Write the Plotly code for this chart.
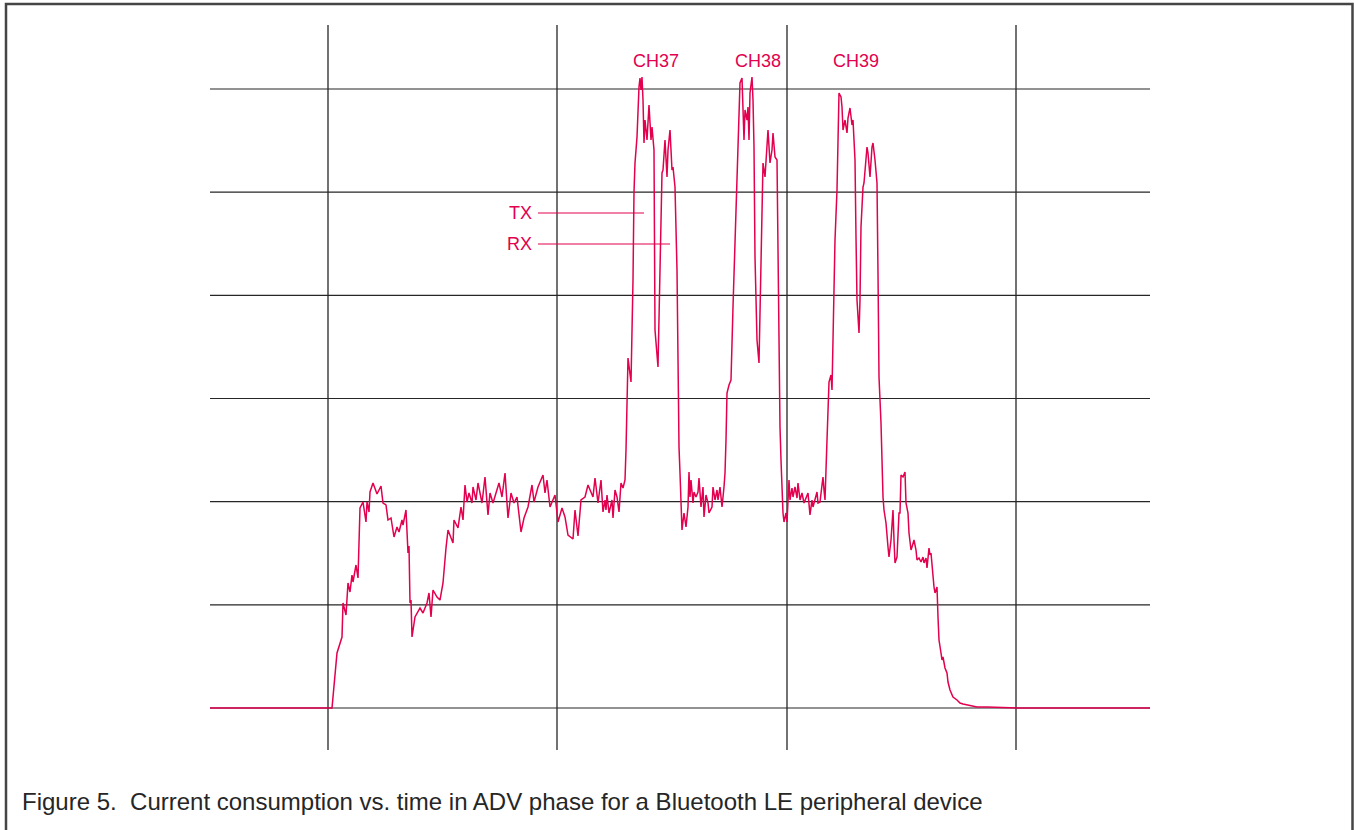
import plotly.graph_objects as go

# Time (arbitrary sample units) and current (arbitrary units, 1 grid division ~ 103.2)
time = [0, 122, 127, 132, 133, 136, 138, 140, 142, 143, 146, 148, 150, 153, 156, 157, 159, 160,
        163, 167, 171, 173, 176, 178, 181, 184, 187, 189, 192, 193, 196, 198, 199, 200, 201, 202,
        205, 207, 210, 213, 217, 219, 221, 223, 227, 230, 233, 236, 238, 243, 244, 248, 251, 253,
        255, 257, 259, 262, 263, 266, 268, 272, 275, 278, 280, 283, 286, 289, 292, 295, 298, 301,
        304, 307, 311, 314, 318, 322, 324, 328, 333, 335, 337, 340, 345, 348, 352, 355, 358, 363,
        365, 368, 371, 375, 378, 383, 385, 388, 391, 392, 393, 395, 396, 397, 399, 402, 403, 405,
        407, 409, 411, 413, 415, 416, 417, 418, 421, 422, 423, 424, 425, 427, 428, 429, 430, 431,
        432, 433, 434, 435, 437, 439, 441, 442, 444, 445, 448, 449, 450, 451, 452, 453, 455, 457,
        458, 460, 462, 463, 465, 467, 468, 469, 470, 471, 472, 474, 476, 478, 479, 480, 481, 483,
        484, 486, 488, 489, 491, 493, 494, 496, 498, 499, 502, 503, 505, 507, 508, 510, 512, 514,
        515, 516, 517, 519, 521, 523, 525, 527, 528, 529, 530, 532, 533, 534, 535, 537, 538, 539,
        540, 542, 543, 544, 545, 547, 549, 550, 551, 552, 553, 555, 557, 558, 560, 562, 563, 565,
        567, 568, 569, 570, 571, 572, 573, 574, 576, 577, 579, 580, 582, 583, 585, 587, 588, 590,
        592, 594, 596, 598, 600, 602, 603, 605, 607, 608, 610, 612, 613, 614, 615, 617, 618, 619,
        621, 622, 623, 625, 627, 628, 629, 631, 632, 633, 635, 637, 638, 640, 642, 643, 645, 646,
        647, 649, 650, 651, 653, 654, 655, 657, 658, 660, 662, 663, 665, 667, 668, 669, 671, 672,
        673, 674, 676, 678, 679, 681, 683, 684, 685, 687, 689, 690, 691, 693, 695, 696, 698, 699,
        701, 702, 704, 706, 707, 709, 711, 713, 714, 716, 717, 719, 720, 721, 722, 724, 725, 727,
        728, 729, 731, 732, 733, 735, 737, 738, 740, 743, 747, 750, 753, 757, 762, 767, 777, 810,
        940]
current = [0, 0, 55, 71, 105, 93, 125, 116, 133, 126, 143, 130, 200, 206, 186, 206, 196, 216,
           225, 214, 222, 205, 203, 188, 190, 171, 181, 176, 188, 183, 198, 155, 162, 105, 108, 71,
           91, 95, 100, 95, 105, 115, 91, 118, 111, 108, 125, 160, 178, 165, 188, 180, 201, 188,
           223, 206, 215, 205, 221, 208, 225, 205, 231, 193, 215, 205, 215, 225, 211, 235, 190, 215,
           205, 211, 176, 190, 201, 223, 206, 221, 233, 215, 228, 201, 213, 186, 200, 191, 173, 169,
           198, 172, 208, 211, 223, 211, 230, 205, 228, 205, 196, 208, 198, 213, 195, 208, 190, 218,
           211, 196, 225, 220, 228, 258, 315, 350, 326, 368, 428, 516, 545, 571, 601, 621, 630, 618,
           631, 608, 565, 588, 568, 603, 568, 581, 558, 378, 341, 388, 461, 515, 535, 538, 568, 531,
           558, 578, 538, 541, 521, 438, 321, 261, 235, 195, 178, 195, 181, 201, 236, 211, 228, 205,
           216, 211, 216, 230, 201, 221, 191, 213, 205, 195, 201, 221, 208, 218, 208, 221, 201, 221,
           235, 268, 315, 323, 328, 401, 468, 525, 561, 598, 625, 630, 595, 568, 598, 588, 601, 568,
           615, 631, 608, 561, 451, 368, 345, 395, 471, 515, 545, 531, 561, 578, 545, 558, 575, 551,
           548, 441, 331, 281, 248, 215, 195, 186, 195, 186, 228, 208, 220, 211, 221, 210, 225, 208,
           215, 205, 211, 215, 193, 208, 201, 210, 216, 205, 206, 223, 231, 218, 208, 268, 305, 326,
           333, 318, 368, 468, 518, 561, 615, 611, 601, 578, 588, 575, 590, 600, 583, 588, 548, 471,
           408, 375, 408, 481, 521, 525, 535, 561, 555, 531, 561, 565, 548, 525, 435, 331, 285, 241,
           211, 198, 185, 161, 151, 168, 198, 168, 145, 151, 195, 195, 233, 231, 236, 205, 195, 175,
           158, 161, 168, 158, 148, 150, 146, 151, 145, 150, 140, 160, 153, 155, 141, 121, 115, 121,
           91, 68, 55, 48, 51, 40, 35, 26, 18, 11, 8, 5, 4, 3, 2, 1, 1, 0,
           0]

# Grid definitions (same units as the data)
h_grid = [0, 103.2, 206.3, 309.5, 412.7, 515.8, 619.0]
h_grid_span = [0, 940]
v_grid = [118, 347, 577, 806]
v_grid_span = [-42, 683]

# Channel labels
ch_labels = ["CH37", "CH38", "CH39"]
ch_time = [446, 548, 646]
ch_level = 647

# TX / RX call-outs
callout_labels = ["TX", "RX"]
callout_level = [495, 464]
callout_start = 328
callout_end = [434, 460]
callout_text_right = 324

title_text = "Figure 5.\u00a0 Current consumption vs. time in ADV phase for a Bluetooth LE peripheral device"

PINK = "#e2004f"
GRID = "#262626"
FONT = "Liberation Sans, Arial, Helvetica, sans-serif"

fig = go.Figure()

fig.add_trace(go.Scatter(x=time, y=current, mode="lines",
                         line=dict(color=PINK, width=1.5), hoverinfo="skip",
                         showlegend=False))

shapes = []
for g in h_grid:
    shapes.append(dict(type="line", xref="x", yref="y", x0=h_grid_span[0], x1=h_grid_span[1],
                       y0=g, y1=g, line=dict(color=GRID, width=1.2), layer="below"))
for g in v_grid:
    shapes.append(dict(type="line", xref="x", yref="y", x0=g, x1=g,
                       y0=v_grid_span[0], y1=v_grid_span[1],
                       line=dict(color=GRID, width=1.3), layer="below"))
for lvl, end in zip(callout_level, callout_end):
    shapes.append(dict(type="line", xref="x", yref="y", x0=callout_start, x1=end,
                       y0=lvl, y1=lvl, line=dict(color=PINK, width=1)))
# outer frame
shapes.append(dict(type="rect", xref="paper", yref="paper",
                   x0=6 / 1354, x1=1352.5 / 1354, y0=-0.05, y1=1 - 4 / 830,
                   line=dict(color="#454545", width=2.5)))

annotations = []
for lab, t in zip(ch_labels, ch_time):
    annotations.append(dict(x=t, y=ch_level, xref="x", yref="y", text=lab, showarrow=False,
                            xanchor="center", yanchor="middle",
                            font=dict(family=FONT, size=18, color=PINK)))
for lab, lvl in zip(callout_labels, callout_level):
    annotations.append(dict(x=callout_text_right, y=lvl, xref="x", yref="y", text=lab,
                            showarrow=False, xanchor="right", yanchor="middle",
                            font=dict(family=FONT, size=18, color=PINK)))
annotations.append(dict(x=20 / 1354, y=1 - 801 / 830, xref="paper", yref="paper",
                        text=title_text, showarrow=False, xanchor="left", yanchor="middle",
                        font=dict(family=FONT, size=24, color="#262626")))

fig.update_layout(
    width=1354, height=830,
    margin=dict(l=0, r=0, t=0, b=0),
    paper_bgcolor="white", plot_bgcolor="white",
    xaxis=dict(range=[-210, 1144], visible=False, fixedrange=True),
    yaxis=dict(range=[-122, 708], visible=False, fixedrange=True),
    shapes=shapes, annotations=annotations, showlegend=False,
)

fig.write_html("out.html")
